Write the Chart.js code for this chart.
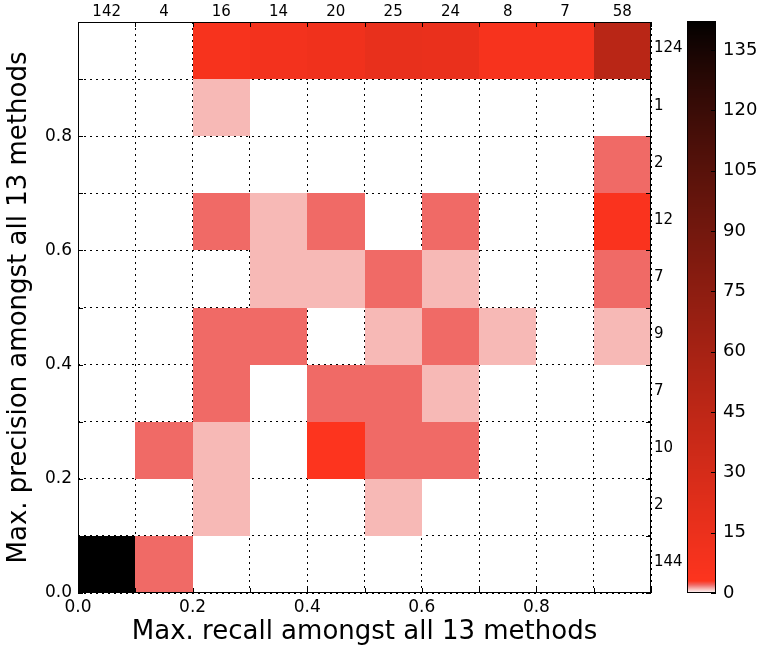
<!DOCTYPE html>
<html>
<head>
<meta charset="utf-8">
<script src="https://cdn.jsdelivr.net/npm/chart.js@4.4.1/dist/chart.umd.min.js"></script>
<style>
	body { margin: 0; background: #fff; }
</style>
</head>
<body>
<canvas id="heat" width="760" height="648"></canvas>
<script>
// lower edge of each recall / precision bin
var bins = [0.0, 0.1, 0.2, 0.3, 0.4, 0.5, 0.6, 0.7, 0.8, 0.9];
var binWidth = 0.1;

// one row per precision bin (lowest first), one column per recall bin
var counts = [
	[142, 2, 0, 0, 0, 0, 0, 0, 0, 0],
	[0, 0, 1, 0, 0, 1, 0, 0, 0, 0],
	[0, 2, 1, 0, 3, 2, 2, 0, 0, 0],
	[0, 0, 2, 0, 2, 2, 1, 0, 0, 0],
	[0, 0, 2, 2, 0, 1, 2, 1, 0, 1],
	[0, 0, 0, 1, 1, 2, 1, 0, 0, 2],
	[0, 0, 2, 1, 2, 0, 2, 0, 0, 5],
	[0, 0, 0, 0, 0, 0, 0, 0, 0, 2],
	[0, 0, 1, 0, 0, 0, 0, 0, 0, 0],
	[0, 0, 7, 10, 12, 17, 16, 7, 7, 48]
];

var axisTicks = [0.0, 0.2, 0.4, 0.6, 0.8];
var colorbarTicks = [0, 15, 30, 45, 60, 75, 90, 105, 120, 135];
var colorbarMax = 142;

var colTotals = bins.map(function(b, c) {
	return counts.reduce(function(s, row) { return s + row[c]; }, 0);
});
var rowTotals = counts.map(function(row) {
	return row.reduce(function(s, v) { return s + v; }, 0);
});

var points = [];
counts.forEach(function(row, r) {
	row.forEach(function(v, c) {
		if (v > 0) points.push({x: bins[c], y: bins[r], v: v});
	});
});

// white -> pink -> red for the first few counts, then red fading to black
var lowStops = [[0, 255, 255, 255], [1, 247, 185, 182], [2, 240, 106, 102], [3, 253, 52, 30]];
function cellColor(v) {
	if (v <= 3) {
		var i = Math.min(Math.floor(v), 2);
		var a = lowStops[i], b = lowStops[i + 1], t = v - a[0];
		return 'rgb(' + [1, 2, 3].map(function(k) { return Math.round(a[k] + (b[k] - a[k]) * t); }).join(',') + ')';
	}
	var f = Math.pow(Math.max(0, 1 - (v - 3) / (colorbarMax - 3)), 0.8);
	return 'rgb(' + Math.round(253 * f) + ',' + Math.round(52 * f) + ',' + Math.round(30 * f) + ')';
}

function labelTick(v) {
	var hit = axisTicks.some(function(t) { return Math.abs(t - v) < 1e-6; });
	return hit ? v.toFixed(1) : '';
}

var heatmap = {
	id: 'heatmap',
	beforeDatasetsDraw: function(chart) {
		var ctx = chart.ctx, xs = chart.scales.x, ys = chart.scales.y;
		ctx.save();
		chart.data.datasets[0].data.forEach(function(p) {
			var x0 = Math.round(xs.getPixelForValue(p.x));
			var x1 = Math.round(xs.getPixelForValue(p.x + binWidth));
			var y0 = Math.round(ys.getPixelForValue(p.y + binWidth));
			var y1 = Math.round(ys.getPixelForValue(p.y));
			ctx.fillStyle = cellColor(p.v);
			ctx.fillRect(x0, y0, x1 - x0, y1 - y0);
		});
		ctx.restore();
	},
	afterDraw: function(chart) {
		var ctx = chart.ctx, a = chart.chartArea;
		var xs = chart.scales.x, ys = chart.scales.y, cb = chart.scales.cb;
		ctx.save();
		ctx.strokeStyle = '#000';
		ctx.lineWidth = 1;

		// inward tick marks on all four sides
		ctx.beginPath();
		bins.concat([1]).forEach(function(b) {
			var px = Math.round(xs.getPixelForValue(b)) + 0.5;
			var py = Math.round(ys.getPixelForValue(b)) + 0.5;
			ctx.moveTo(px, a.bottom); ctx.lineTo(px, a.bottom - 5);
			ctx.moveTo(px, a.top); ctx.lineTo(px, a.top + 5);
			ctx.moveTo(a.left, py); ctx.lineTo(a.left + 5, py);
			ctx.moveTo(a.right, py); ctx.lineTo(a.right - 5, py);
		});
		ctx.stroke();
		ctx.strokeRect(Math.round(a.left) + 0.5, Math.round(a.top) + 0.5,
			Math.round(a.right - a.left) - 1, Math.round(a.bottom - a.top) - 1);

		// totals along the top and the right
		ctx.fillStyle = '#000';
		ctx.font = '15px "DejaVu Sans"';
		ctx.textAlign = 'center';
		ctx.textBaseline = 'middle';
		colTotals.forEach(function(t, c) {
			ctx.fillText(String(t), xs.getPixelForValue(bins[c] + binWidth / 2), a.top - 10);
		});
		ctx.textAlign = 'left';
		rowTotals.forEach(function(t, r) {
			ctx.fillText(String(t), a.right + 3, ys.getPixelForValue(bins[r] + binWidth / 2) - 2);
		});

		// colour bar
		var cbLeft = Math.round(a.right) + 36, cbWidth = 29;
		var top = Math.round(cb.getPixelForValue(colorbarMax)) - 1, bottom = Math.round(cb.getPixelForValue(0));
		for (var y = top; y < bottom; y++) {
			ctx.fillStyle = cellColor(Math.max(0, cb.getValueForPixel(y + 0.5)));
			ctx.fillRect(cbLeft, y, cbWidth, 1);
		}
		ctx.strokeRect(cbLeft + 0.5, top + 0.5, cbWidth - 1, bottom - top - 1);
		ctx.beginPath();
		colorbarTicks.forEach(function(t) {
			var py = Math.round(cb.getPixelForValue(t)) + 0.5;
			ctx.moveTo(cbLeft + cbWidth - 5, py); ctx.lineTo(cbLeft + cbWidth, py);
		});
		ctx.stroke();
		ctx.restore();
	}
};

Chart.defaults.font.family = '"DejaVu Sans", sans-serif';
Chart.defaults.color = '#000';

new Chart(document.getElementById('heat').getContext('2d'), {
	type: 'scatter',
	data: {
		datasets: [{
			data: points,
			pointRadius: 0,
			pointHoverRadius: 0
		}]
	},
	plugins: [heatmap],
	options: {
		responsive: false,
		animation: false,
		events: [],
		layout: { padding: { top: 22, left: 0, right: 0, bottom: 0 } },
		plugins: { legend: { display: false }, tooltip: { enabled: false } },
		scales: {
			x: {
				type: 'linear', position: 'bottom', min: 0, max: 1, z: 1,
				afterFit: function(s) { s.height = 55; },
				grid: { color: '#000', lineWidth: 1, drawTicks: false },
				border: { display: false, dash: [2, 4] },
				ticks: { stepSize: 0.1, autoSkip: false, maxRotation: 0, padding: 4, font: { size: 17 }, callback: labelTick },
				title: { display: true, text: 'Max. recall amongst all 13 methods', font: { size: 26 }, padding: { top: 0, bottom: 0 } }
			},
			y: {
				type: 'linear', position: 'left', min: 0, max: 1, z: 1,
				afterFit: function(s) { s.width = 78; },
				grid: { color: '#000', lineWidth: 1, drawTicks: false },
				border: { display: false, dash: [2, 4] },
				ticks: { stepSize: 0.1, autoSkip: false, padding: 6, font: { size: 17 }, callback: labelTick },
				title: { display: true, text: 'Max. precision amongst all 13 methods', font: { size: 26 }, padding: { top: 4, bottom: 0 } }
			},
			cb: {
				type: 'linear', position: 'right', min: 0, max: colorbarMax,
				afterFit: function(s) {
					s.width = 109;
					// the wide label gap must not push the plot area down
					s.paddingTop = 0;
					s.paddingBottom = 0;
				},
				afterBuildTicks: function(s) {
					s.ticks = colorbarTicks.map(function(t) { return {value: t}; });
				},
				grid: { display: false, drawTicks: false },
				border: { display: false },
				ticks: { padding: 72, font: { size: 18 } }
			}
		}
	}
});
</script>
</body>
</html>
